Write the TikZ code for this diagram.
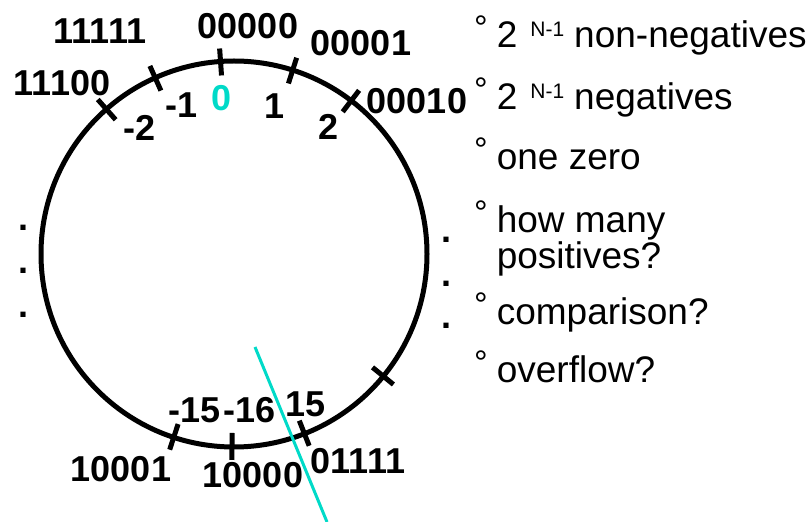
\documentclass[tikz,border=0pt]{standalone}
\usepackage{fontspec}
\setmainfont{Liberation Sans}
\usepackage{tikz}
\usepackage{xcolor}
\usetikzlibrary{calc}
\definecolor{ZeroCyan}{RGB}{0,218,200}

\newcommand{\ringbul}{\raisebox{8pt}{\fontsize{34}{34}\selectfont °}\hspace{9pt}}
\newcommand{\supNm}{\raisebox{11pt}{\fontsize{21}{21}\selectfont N-1}}

\begin{document}
\begin{tikzpicture}[x=1pt, y=1pt, every node/.style={inner sep=0pt},
  code/.style={font=\fontsize{36}{36}\selectfont\bfseries},
  item/.style={anchor=base west, font=\fontsize{37}{30}\selectfont},
  tick/.style={line width=5pt}]
\useasboundingbox (0,0) rectangle (806,522);

% number wheel
\coordinate (c) at (234,268);
\draw[line width=5pt] (c) circle[radius=193];
\foreach \a in {94,72.3,52.6,114.1,131.4,251.8,269.4,291.4,320.7}
  \draw[tick, shift={(c)}] (\a:179) -- (\a:206);

% bit patterns
\node[code] (b00000) at (248,496) {00000};
\node[code] (b11111) at (100,491) {11111};
\node[code] (b00001) at (361,479) {00001};
\node[code] (b11100) at (62,439) {11100};
\node[code] (b00010) at (417,421) {00010};
\node[code] (b10001) at (121,53) {10001};
\node[code] (b10000) at (253,47) {10000};
\node[code] (b01111) at (358,61) {01111};

% values
\node[code, text=ZeroCyan] (vzero) at (222,424) {0};
\node[code] (vm1) at (182,417) {-1};
\node[code] (vm2) at (140,394) {-2};
\node[code] (vp1) at (275,416) {1};
\node[code] (vp2) at (329,395) {2};
\node[code] (vm15) at (195,112) {-15};
\node[code] (vm16) at (250,112) {-16};
\node[code] (vp15) at (306,118) {15};

% dots
\node[code] (ldot1) at (24,294) {.};
\node[code] (ldot2) at (24,251) {.};
\node[code] (ldot3) at (24,207) {.};
\node[code] (rdot1) at (446,282) {.};
\node[code] (rdot2) at (446,238) {.};
\node[code] (rdot3) at (446,196) {.};

% overflow cut
\coordinate (cutA) at (255,175);
\coordinate (cutB) at (327,0);
\draw[ZeroCyan, line width=3pt] (cutA) -- (cutB);

% notes
\node[item] (nonneg) at (474,474) {\ringbul 2\hspace{13pt}\supNm\hspace{10pt}non-negatives};
\node[item] (neg) at (474,412) {\ringbul 2\hspace{13pt}\supNm\hspace{10pt}negatives};
\node[item] (zero) at (474,352) {\ringbul one zero};
\node[item] (pos) at (474,289) {\ringbul\begin{tabular}[t]{@{}l@{}}how many\\positives?\end{tabular}};
\node[item] (cmp) at (474,197) {\ringbul comparison?};
\node[item] (ovf) at (474,139) {\ringbul overflow?};
\end{tikzpicture}
\end{document}
